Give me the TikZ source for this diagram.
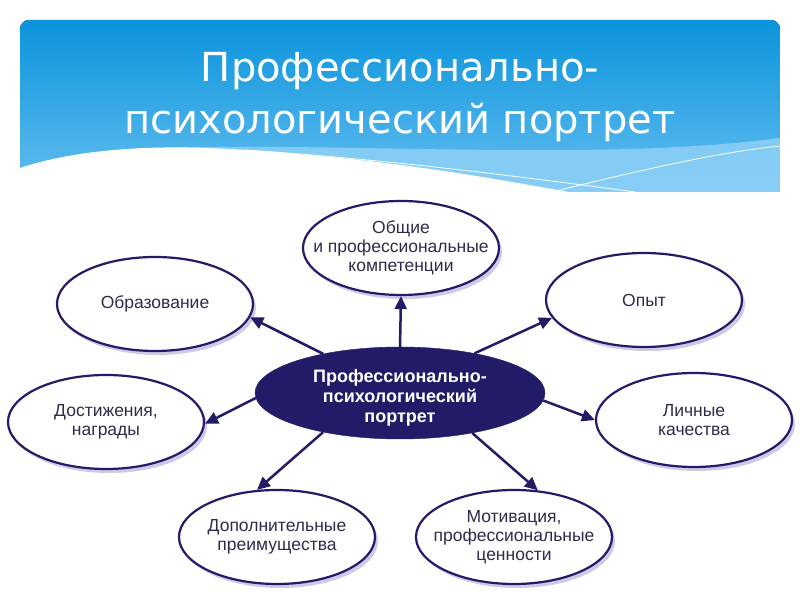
\documentclass[tikz,border=0pt]{standalone}
\usepackage{fontspec}
\setmainfont{Liberation Sans}
\newfontfamily\titlefont{DejaVu Sans}
\usetikzlibrary{arrows.meta,shadows,shapes.geometric}
\definecolor{navy}{RGB}{33,27,104}
\definecolor{ink}{RGB}{45,45,75}
\definecolor{skytop}{RGB}{10,147,220}
\definecolor{skybot}{RGB}{100,190,240}
\definecolor{skylight}{RGB}{145,210,247}

\begin{document}
\begin{tikzpicture}[x=1bp,y=1bp,
  bubble/.style={ellipse, draw=navy, line width=2.2bp, fill=white,
    minimum width=196bp, minimum height=94bp, inner sep=0pt,
    drop shadow={shadow xshift=3bp, shadow yshift=-4bp, opacity=0.3,
      fill={rgb,255:red,90;green,80;blue,170}}},
  txt/.style={align=center, text=ink, inner sep=0pt,
    font=\fontsize{17.5bp}{19bp}\selectfont},
  link/.style={navy, line width=2.5bp, -{Triangle[length=13bp,width=12bp]}}]
  \useasboundingbox (0,0) rectangle (800,600);
  \fill[white] (0,0) rectangle (800,600);

  % header
  \begin{scope}
    \clip (20,400) [rounded corners=9bp] -- (20,580) -- (780,580) [sharp corners] -- (780,400) -- cycle;
    \fill[top color=skytop, bottom color=skybot] (20,408) rectangle (780,580);
    \fill[skylight, opacity=0.8] (160,452) .. controls (350,458) and (600,438) .. (780,462)
      -- (780,408) -- (160,408) -- cycle;
    \draw[white, line width=0.8bp] (245,450) .. controls (400,440) and (560,418) .. (650,406);
    \draw[white, line width=0.8bp] (540,405) .. controls (640,430) and (720,448) .. (780,454);
    \fill[white] (20,432) .. controls (80,452) and (160,456) .. (245,450)
      .. controls (400,440) and (500,420) .. (580,406) -- (580,398) -- (20,398) -- cycle;
  \end{scope}
  \node (title) at (400,503) [align=center, text=white, inner sep=0pt,
    font=\titlefont\fontsize{40bp}{52bp}\selectfont]
    {Профессионально-\\психологический портрет};

  % center
  \node [ellipse, fill=navy, draw=navy, minimum width=290bp, minimum height=92bp,
    inner sep=0pt] (p) at (400,207) {};
  \node [align=center, text=white, inner sep=0pt,
    font=\bfseries\fontsize{18bp}{20bp}\selectfont] (p-t) at ([yshift=-5bp]p.center)
    {Профессионально-\\психологический\\портрет};

  % outer
  \node [bubble] (comp) at (401,352) {};
  \node [txt] (comp-t) at (comp) {Общие\\и профессиональные\\компетенции};
  \node [bubble] (obr) at (155,296) {};
  \node [txt] (obr-t) at (obr) {Образование};
  \node [bubble] (opyt) at (644,300) {};
  \node [txt] (opyt-t) at (opyt) {Опыт};
  \node [bubble] (dost) at (106,178) {};
  \node [txt] (dost-t) at (dost) {Достижения,\\награды};
  \node [bubble] (lich) at (694,180) {};
  \node [txt] (lich-t) at (lich) {Личные\\качества};
  \node [bubble] (dop) at (277,63) {};
  \node [txt] (dop-t) at (dop) {Дополнительные\\преимущества};
  \node [bubble] (motiv) at (514,63) {};
  \node [txt] (motiv-t) at (motiv) {Мотивация,\\профессиональные\\ценности};

  \draw [link] (p.90) -- (comp.-90);
  \draw [link] (p.153) -- (obr.-8);
  \draw [link] (p.28) -- (opyt.191);
  \draw [link] (p.182) -- (dost.-1);
  \draw [link] (p.-3) -- (lich.180);
  \draw [link] (p.207) -- (dop.113);
  \draw [link] (p.-29) -- (motiv.63);
\end{tikzpicture}
\end{document}
